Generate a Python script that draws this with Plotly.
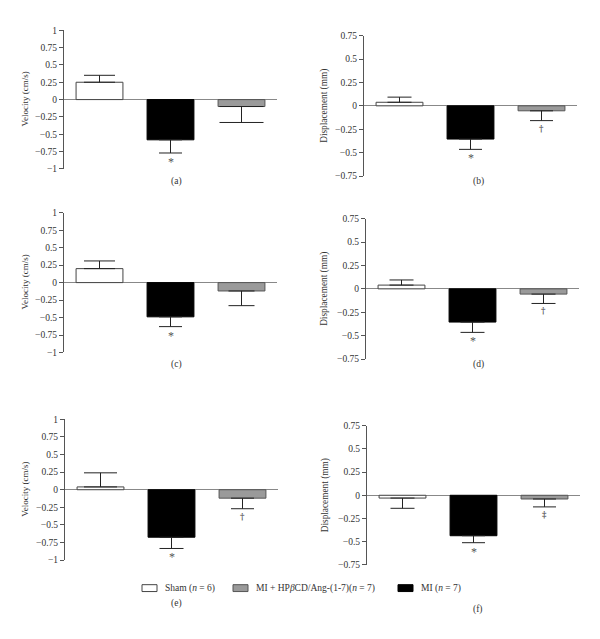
import plotly.graph_objects as go

# ---------------- data ----------------
groups = ["Sham", "MI", "MI + HPβCD/Ang-(1-7)"]
legend_labels = ["Sham (<i>n</i> = 6)", "MI + HP<i>β</i>CD/Ang-(1-7)(<i>n</i> = 7)", "MI (<i>n</i> = 7)"]
panel_labels = ["(a)", "(b)", "(c)", "(d)", "(e)", "(f)"]
y_titles = ["Velocity (cm/s)", "Displacement (mm)", "Velocity (cm/s)",
            "Displacement (mm)", "Velocity (cm/s)", "Displacement (mm)"]

vals_a = [0.25, -0.58, -0.10]
err_a = [0.10, 0.19, 0.23]
vals_b = [0.038, -0.355, -0.053]
err_b = [0.055, 0.11, 0.105]
vals_c = [0.20, -0.49, -0.12]
err_c = [0.11, 0.14, 0.21]
vals_d = [0.04, -0.355, -0.056]
err_d = [0.055, 0.11, 0.10]
vals_e = [0.04, -0.675, -0.12]
err_e = [0.20, 0.16, 0.15]
vals_f = [-0.03, -0.435, -0.04]
err_f = [0.11, 0.075, 0.085]

sig_a = ["", "*", ""]
sig_b = ["", "*", "†"]
sig_c = ["", "*", ""]
sig_d = ["", "*", "†"]
sig_e = ["", "*", "†"]
sig_f = ["", "*", "‡"]

vel_ticks = [1, 0.75, 0.5, 0.25, 0, -0.25, -0.5, -0.75, -1]
vel_ticktext = ["1", "0.75", "0.5", "0.25", "0", "−0.25", "−0.5", "−0.75", "−1"]
disp_ticks = [0.75, 0.5, 0.25, 0, -0.25, -0.5, -0.75]
disp_ticktext = ["0.75", "0.5", "0.25", "0", "−0.25", "−0.5", "−0.75"]

values = [vals_a, vals_b, vals_c, vals_d, vals_e, vals_f]
errors = [err_a, err_b, err_c, err_d, err_e, err_f]
sigs = [sig_a, sig_b, sig_c, sig_d, sig_e, sig_f]

# ---------------- style / layout ----------------
PAGE_OFF = 8  # default page margin of the html body
W, H = 600 - 2 * PAGE_OFF, 639 - 2 * PAGE_OFF
FONT = "Liberation Serif"
fills = ["#ffffff", "#000000", "#9a9a9a"]
outlines = ["#444444", "#000000", "#555555"]
cap_half = [[15.5, 11.5, 22], [12, 11.5, 11.5], [15.5, 11.5, 13],
            [12, 12, 12], [16.5, 12, 11.5], [12, 11.5, 11.5]]
# pixel boxes in the page: (x0, x1, ytop, ybottom)
boxes = [(64, 277, 25.5, 166.5), (364, 577, 31, 173.7),
         (64, 277, 211, 353), (366, 579, 217, 359.7),
         (65, 278, 421, 564), (367, 580, 427.3, 569)]
label_pos = [(176, 179), (478, 179), (176, 365), (478, 365), (176, 608), (478, 614)]
title_x = [25, 325, 25, 325, 25, 325]
title_size = [9, 9.3, 9, 9.3, 9, 9.3]


def fx(px):
    return (px - PAGE_OFF) / W


def fy(py):
    return 1 - (py - PAGE_OFF) / H


fig = go.Figure()
annotations = []
layout_axes = {}

for p in range(6):
    ax = "" if p == 0 else str(p + 1)
    xa, ya = "x" + ax, "y" + ax
    is_vel = p % 2 == 0
    for g in range(3):
        v = values[p][g]
        e = errors[p][g]
        fig.add_trace(go.Bar(
            x=[groups[g]], y=[v], xaxis=xa, yaxis=ya, width=0.66,
            marker=dict(color=fills[g], line=dict(color=outlines[g], width=1)),
            error_y=dict(type="data", symmetric=False,
                         array=[e if v >= 0 else 0],
                         arrayminus=[e if v < 0 else 0],
                         color="#222222", thickness=1, width=cap_half[p][g]),
            showlegend=False, hoverinfo="skip"))
        if sigs[p][g]:
            is_star = sigs[p][g] == "*"
            annotations.append(dict(
                x=groups[g], y=v - e, xref=xa, yref=ya,
                text=sigs[p][g] if is_star else "<b>" + sigs[p][g] + "</b>",
                showarrow=False, yanchor="top", yshift=0 if is_star else -1,
                font=dict(family=FONT if is_star else "DejaVu Serif",
                          size=12 if is_star else 8.5, color="#555")))
    x0, x1, yt, yb = boxes[p]
    layout_axes["xaxis" + ax] = dict(
        domain=[fx(x0), fx(x1)], anchor=ya, type="category",
        categoryorder="array", categoryarray=groups, range=[-0.5, 2.5],
        visible=False, fixedrange=True)
    layout_axes["yaxis" + ax] = dict(
        domain=[fy(yb), fy(yt)], anchor=xa,
        range=[-1, 1] if is_vel else [-0.75, 0.75],
        tickvals=vel_ticks if is_vel else disp_ticks,
        ticktext=vel_ticktext if is_vel else disp_ticktext,
        ticks="outside", ticklen=4, tickcolor="#555", tickwidth=1,
        showline=True, linecolor="#555", linewidth=1,
        zeroline=True, zerolinecolor="#888", zerolinewidth=1,
        showgrid=False, tickfont=dict(family=FONT, size=9.5, color="#333"),
        fixedrange=True)
    annotations.append(dict(
        x=fx(title_x[p]), y=fy((yt + yb) / 2), xref="paper", yref="paper",
        text=y_titles[p], textangle=-90, showarrow=False,
        xanchor="center", yanchor="middle",
        font=dict(family=FONT, size=title_size[p], color="#333")))
    lx, ly = label_pos[p]
    annotations.append(dict(
        x=fx(lx), y=fy(ly), xref="paper", yref="paper", text=panel_labels[p],
        showarrow=False, xanchor="center", yanchor="middle",
        font=dict(family=FONT, size=9.5, color="#333")))

# legend (manual swatches)
shapes = []
leg_boxes = [(142, 157), (233, 248), (398, 413)]
leg_fills = [fills[0], fills[2], fills[1]]
leg_lines = [outlines[0], outlines[2], outlines[1]]
for i, (bx0, bx1) in enumerate(leg_boxes):
    shapes.append(dict(type="rect", xref="paper", yref="paper",
                       x0=fx(bx0), x1=fx(bx1), y0=fy(596), y1=fy(589),
                       fillcolor=leg_fills[i], line=dict(color=leg_lines[i], width=1)))
    annotations.append(dict(
        x=fx(bx1 + 6), y=fy(592.5), xref="paper", yref="paper",
        text=legend_labels[i], showarrow=False, xanchor="left", yanchor="middle",
        font=dict(family=FONT, size=9.5, color="#333")))

fig.update_layout(
    width=W, height=H, margin=dict(l=0, r=0, t=0, b=0),
    paper_bgcolor="white", plot_bgcolor="white",
    barmode="overlay", annotations=annotations, shapes=shapes,
    **layout_axes)

fig.write_html("out.html")
